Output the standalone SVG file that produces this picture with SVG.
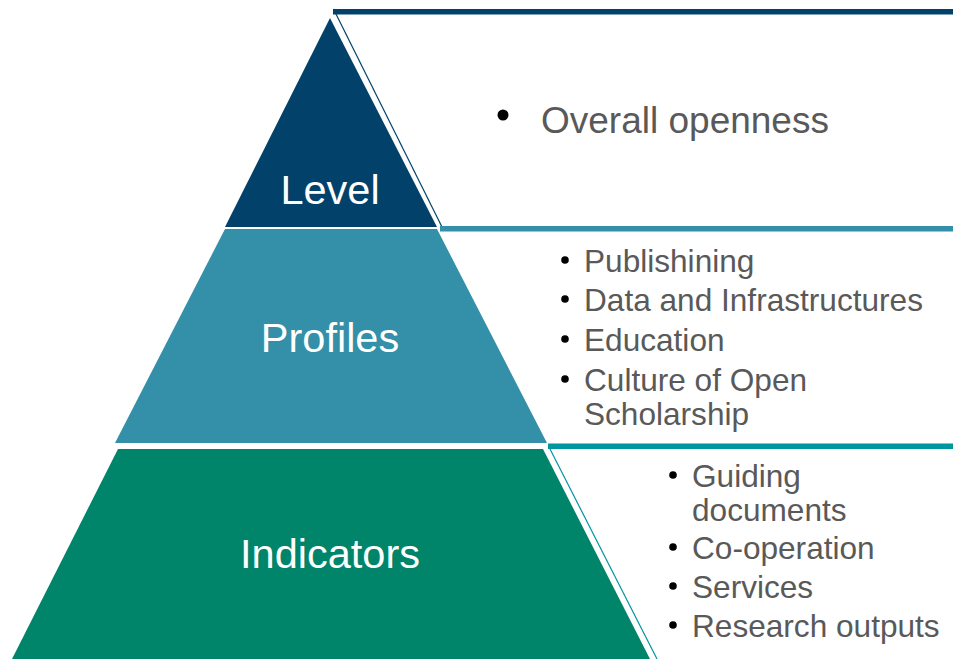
<svg xmlns="http://www.w3.org/2000/svg" width="953" height="659" viewBox="0 0 953 659">
<style>
.lbl{font-family:"Liberation Sans",Arial,sans-serif;fill:#ffffff;font-size:41.5px;text-anchor:middle}
.it{font-family:"Liberation Sans",Arial,sans-serif;fill:#595959;font-size:31.6px}
.big{font-family:"Liberation Sans",Arial,sans-serif;fill:#595959;font-size:37px}
.dot{fill:#000000}
</style>
<rect width="953" height="659" fill="#ffffff"/>
<g id="connectors">
<rect x="333" y="9" width="620" height="5.5" fill="#02426A"/>
<line x1="333.5" y1="9" x2="442" y2="227" stroke="#02426A" stroke-width="1.2"/>
<rect x="440" y="226" width="513" height="5.5" fill="#3390A8"/>
<rect x="548" y="443.5" width="405" height="5.5" fill="#0096A0"/>
<line x1="550" y1="449" x2="657" y2="659" stroke="#0096A0" stroke-width="1.2"/>
</g>
<g id="level">
<polygon points="330,18 437,227 225,227" fill="#02426A"/>
<text class="lbl" x="330" y="204">Level</text>
</g>
<g id="profiles">
<polygon points="225,229 437,229 547,443 115,443" fill="#3390A8"/>
<text class="lbl" x="330" y="352">Profiles</text>
</g>
<g id="indicators">
<polygon points="118,449 543,449 650,659 12,659" fill="#00856A"/>
<text class="lbl" x="330" y="568">Indicators</text>
</g>
<g id="level-text">
<circle class="dot" cx="503" cy="115" r="5.5"/>
<text class="big" x="541" y="133">Overall openness</text>
</g>
<g id="profiles-text">
<circle class="dot" cx="565" cy="260" r="3.8"/>
<text class="it" x="584" y="272">Publishining</text>
<circle class="dot" cx="565" cy="299" r="3.8"/>
<text class="it" x="584" y="311">Data and Infrastructures</text>
<circle class="dot" cx="565" cy="339" r="3.8"/>
<text class="it" x="584" y="351">Education</text>
<circle class="dot" cx="565" cy="379" r="3.8"/>
<text class="it" x="584" y="391">Culture of Open</text>
<text class="it" x="584" y="425">Scholarship</text>
</g>
<g id="indicators-text">
<circle class="dot" cx="673" cy="475" r="3.8"/>
<text class="it" x="692" y="487">Guiding</text>
<text class="it" x="692" y="521">documents</text>
<circle class="dot" cx="673" cy="547" r="3.8"/>
<text class="it" x="692" y="559">Co-operation</text>
<circle class="dot" cx="673" cy="586" r="3.8"/>
<text class="it" x="692" y="598">Services</text>
<circle class="dot" cx="673" cy="625" r="3.8"/>
<text class="it" x="692" y="637">Research outputs</text>
</g>
</svg>
